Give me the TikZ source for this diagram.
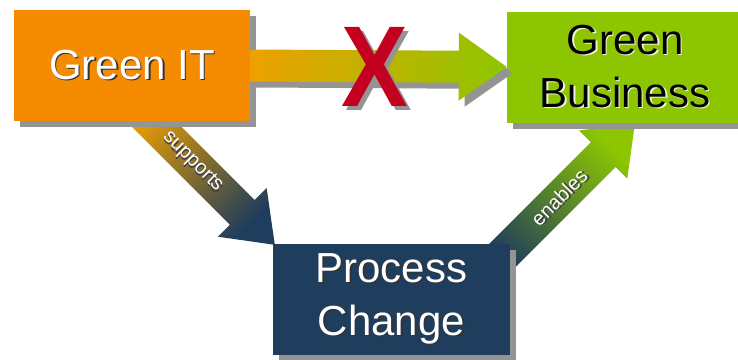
\documentclass[tikz,border=0pt]{standalone}
\usepackage{fontspec}
\setmainfont{Liberation Sans}
\usetikzlibrary{calc, shadows, backgrounds}
\definecolor{orange1}{RGB}{244,139,0}
\definecolor{green1}{RGB}{141,198,0}
\definecolor{blue1}{RGB}{31,61,92}
\definecolor{gold1}{RGB}{238,160,0}
\definecolor{gray1}{RGB}{148,148,148}
\definecolor{red1}{RGB}{196,0,32}

% text with a small offset shadow
\newcommand{\shtxt}[2]{\rlap{\kern1.5pt\raisebox{-1.5pt}{\color{#1}#2}}#2}
% fat arrow: options, start, tip, shaft half width, head half width, head length
\newcommand{\fatarrow}[6]{%
  \coordinate (#3-base) at ($(#3)!#6!(#2)$);
  \path[#1] ($(#2)!#4!90:(#3)$) -- ($(#3-base)!#4!90:(#3)$)
    -- ($(#3-base)!#5!90:(#3)$) -- (#3) -- ($(#3-base)!#5!-90:(#3)$)
    -- ($(#3-base)!#4!-90:(#3)$) -- ($(#2)!#4!-90:(#3)$) -- cycle;}

\begin{document}
\begin{tikzpicture}[x=1pt,y=-1pt]
  \tikzset{box/.style={rectangle, inner sep=0pt, minimum width=236pt,
             minimum height=111pt, align=center,
             font=\fontsize{42}{53}\selectfont,
             general shadow={fill=gray1, shadow xshift=6pt, shadow yshift=-6pt}},
           lbl/.style={inner sep=0pt, text=white, font=\fontsize{20}{20}\selectfont}}
  \useasboundingbox (0,0) rectangle (738,359);

  \node[box, fill=orange1, text=white] (git) at (132,65.5) {\shtxt{black!80}{Green IT}};
  \node[box, fill=green1, text=black] (gb) at (625,67) {\shtxt{white!85!green1}{Green}\\\shtxt{white!85!green1}{Business}};
  \node[box, fill=blue1, text=white, minimum width=237pt] (pc) at (391.5,299.5) {\shtxt{black!80}{Process}\\\shtxt{black!80}{Change}};

  % connectors
  \coordinate (supstart) at ($(git.south)+(-2,-21)$);
  \coordinate (suptip)   at ($(pc.north west)+(2,1)$);
  \coordinate (enastart) at ($(pc.north east)+(-20,24)$);
  \coordinate (enatip)   at ($(gb.south)+(10,0)$);
  \coordinate (itstart)  at (git.east);
  \coordinate (bizin)    at (gb.west);

  \begin{scope}[on background layer]
    \fatarrow{shade, top color=gold1, bottom color=blue1, shading angle=45}{supstart}{suptip}{17.5pt}{34.5pt}{46pt}
    \fatarrow{shade, top color=green1, bottom color=blue1, shading angle=-45}{enastart}{enatip}{17.5pt}{34pt}{45pt}
  \end{scope}

  \begin{scope}[transform canvas={shift={(6pt,-6pt)}}]
    \fatarrow{fill=gray1}{itstart}{bizin}{16pt}{34pt}{48pt}
  \end{scope}
  \fatarrow{shade, left color=gold1, right color=green1}{itstart}{bizin}{16pt}{34pt}{48pt}

  % the cross
  \node[inner sep=0pt, text=red1, xscale=0.87, font=\fontsize{115}{115}\bfseries] (no) at (375,69)
    {\rlap{\kern4pt\raisebox{-4pt}{\color{gray1}X}}X};

  \node[lbl, rotate=-45] (sup) at ($(supstart)!0.43!(suptip)$) {\shtxt{black!75}{supports}};
  \node[lbl, rotate=45]  (ena) at ($(enastart)!0.48!(enatip)$) {\shtxt{black!75}{enables}};
\end{tikzpicture}
\end{document}
